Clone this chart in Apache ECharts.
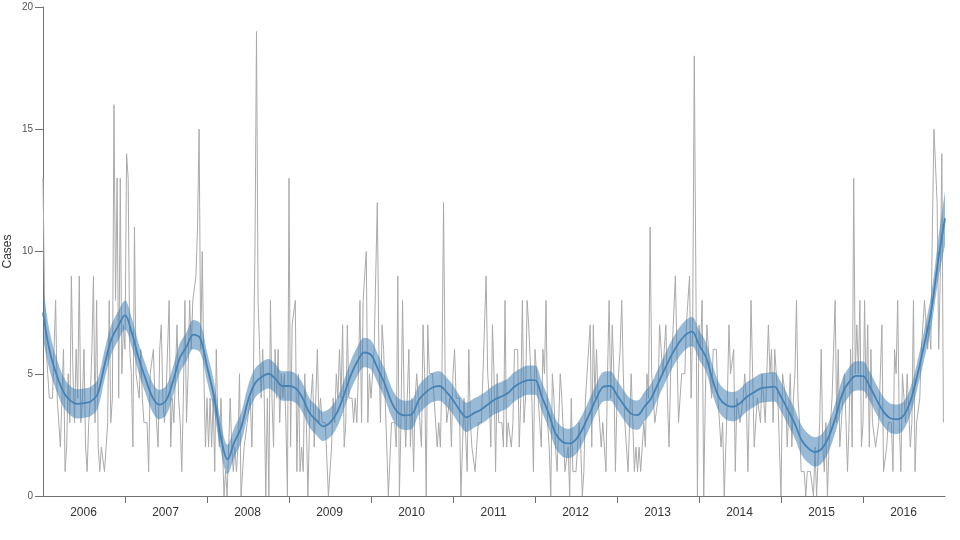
<!DOCTYPE html>
<html>
<head>
<meta charset="utf-8">
<script src="https://cdn.jsdelivr.net/npm/echarts@6/dist/echarts.min.js"></script>
<style>html,body{margin:0;padding:0;background:#fff}#c{width:960px;height:540px}</style>
</head>
<body>
<div id="c"></div>
<script>
const years = ['2006','2007','2008','2009','2010','2011','2012','2013','2014','2015','2016'];
const cases2006 = [13,8,6,5,4,4,4,6,8,4,4,2,2,6,1,2,5,3,9,5,3,6,4,9,3,4,6,2,1,3,4,6,9,3,8,2,1,2,2,1,1,3,8,3,4,16,8,13,4,13,5,7];
const cases2007 = [6,14,13,6,5,2,11,5,5,4,6,4,3,3,3,1,5,5,6,4,4,2,6,7,4,3,4,4,8,2,4,3,3,7,4,3,1,4,8,3,5,8,6,8,8,9,11,15,6,10,5,2];
const cases2008 = [4,2,4,2,4,1,6,3,2,4,2,0,1,0,2,4,2,1,2,1,2,5,0,0,2,2,3,3,4,2,5,10,19,8,6,4,6,4,0,4,0,8,4,2,6,4,6,3,5,4,5,3,0];
const cases2009 = [13,2,7,7,8,1,5,1,2,1,5,3,0,3,3,5,2,4,6,3,4,3,3,3,3,0,1,2,4,3,5,4,6,4,7,2,3,7,4,4,4,3,4,3,5,8,3,8,8,10,3,5];
const cases2010 = [4,4,6,6,12,6,3,7,6,4,2,0,0,3,3,3,2,9,0,3,8,4,2,4,6,2,4,1,4,5,4,4,2,7,5,0,7,5,5,5,4,4,2,3,2,5,12,5,3,3,4,2];
const cases2011 = [5,6,4,4,4,0,2,4,4,1,6,3,2,2,1,1,3,3,3,5,7,9,5,4,2,7,5,1,5,3,3,3,2,8,2,3,3,2,3,6,6,6,2,4,8,3,4,8,7,7,4,1];
const cases2012 = [6,6,4,3,2,6,5,8,3,2,0,5,4,2,1,3,5,4,4,1,1,2,0,4,1,1,1,1,3,2,0,1,4,5,5,7,2,7,4,6,4,3,2,3,2,1,5,8,4,7,5,1];
const cases2013 = [4,5,6,8,5,3,2,1,1,5,3,1,2,1,2,1,2,3,2,5,4,11,5,4,3,3,4,7,6,5,6,7,4,2,5,6,6,9,6,3,4,5,5,5,7,7,9,4,7,18,9,0];
const cases2014 = [7,6,8,0,4,7,6,5,4,6,6,6,4,3,2,3,0,2,4,7,5,5,6,1,4,4,3,3,4,5,4,1,4,8,5,2,2,4,4,3,5,4,3,5,7,5,6,3,6,6,4,2];
const cases2015 = [0,5,5,4,2,2,5,2,4,5,8,4,3,1,1,1,0,1,1,1,1,0,2,0,0,3,6,2,1,3,0,2,2,4,4,8,3,6,2,3,4,5,5,1,3,6,2,13,5,7,5,8,2];
const cases2016 = [3,8,4,7,2,6,3,3,2,2,3,3,7,1,1,2,3,3,3,1,6,5,8,3,1,5,4,3,5,5,2,3,8,1,3,3,4,6,6,8,7,6,7,6,11,15,15,12,6,9,14,3];
const casesByYear = [cases2006,cases2007,cases2008,cases2009,cases2010,cases2011,cases2012,cases2013,cases2014,cases2015,cases2016];

// monthly smooth trend and confidence band, Jan 2006 .. end of series
const trend = [
 7.5,5.9,4.95,4.25,3.9,3.77,3.8,3.87,4.18,5.35,6.4,6.95,
 7.4,6.67,5.63,4.8,4.05,3.74,3.9,4.67,5.63,6.1,6.6,6.46,
 5.3,4.1,2.45,1.5,2.2,2.8,3.9,4.6,4.87,5.0,4.8,4.5,
 4.5,4.4,4.0,3.4,3.1,2.85,3.0,3.4,4.1,4.9,5.5,5.87,
 5.77,5.2,4.6,3.84,3.4,3.3,3.35,3.93,4.24,4.44,4.5,4.27,
 3.93,3.5,3.22,3.38,3.52,3.72,3.93,4.06,4.2,4.47,4.64,4.74,
 4.74,4.06,3.38,2.56,2.22,2.15,2.32,2.77,3.38,4.0,4.47,4.5,
 4.13,3.72,3.38,3.31,3.65,4.0,4.6,5.2,5.77,6.24,6.58,6.72,
 6.18,5.7,4.74,4.0,3.72,3.65,3.79,4.06,4.23,4.4,4.44,4.47,
 4.06,3.52,2.97,2.29,1.95,1.8,1.95,2.43,3.24,4.2,4.68,4.91,
 4.9,4.47,3.93,3.45,3.18,3.14,3.31,3.93,5.0,6.24,7.6,9.65,11.36];
const bandSpan = [
 2.1,1.6,1.35,1.25,1.2,1.2,1.2,1.2,1.2,1.2,1.2,1.2,
 1.2,1.2,1.2,1.2,1.2,1.2,1.2,1.2,1.2,1.2,1.2,1.2,
 1.2,1.2,1.2,1.2,1.2,1.2,1.2,1.2,1.2,1.2,1.2,1.2,
 1.2,1.2,1.2,1.2,1.2,1.2,1.2,1.2,1.2,1.2,1.2,1.2,
 1.2,1.2,1.2,1.2,1.2,1.2,1.2,1.2,1.2,1.2,1.2,1.2,
 1.2,1.2,1.2,1.2,1.2,1.2,1.2,1.2,1.2,1.2,1.2,1.2,
 1.2,1.2,1.2,1.2,1.2,1.2,1.2,1.2,1.2,1.2,1.2,1.2,
 1.2,1.2,1.2,1.2,1.2,1.2,1.2,1.2,1.2,1.2,1.2,1.2,
 1.2,1.2,1.2,1.2,1.2,1.2,1.2,1.2,1.2,1.2,1.2,1.2,
 1.2,1.2,1.2,1.2,1.2,1.2,1.2,1.2,1.2,1.2,1.2,1.2,
 1.2,1.2,1.2,1.2,1.2,1.2,1.15,1.1,1.1,1.2,1.35,1.65,2.2];
const months = trend.map((v, i) => String(i));

const raw = [];
casesByYear.forEach((arr, y) => arr.forEach((v, i) => raw.push([y + i / arr.length, v])));
const low = trend.map((v, i) => +(v - bandSpan[i] / 2).toFixed(3));

const AXIS = '#707070';
const chart = echarts.init(document.getElementById('c'), null, {renderer: 'canvas'});
chart.setOption({
  animation: false,
  backgroundColor: '#fff',
  grid: {left: 43, right: 15, top: 7, bottom: 44, containLabel: false, outerBoundsMode: 'none'},
  xAxis: [
    {type: 'value', min: 0, max: 11, interval: 1, splitLine: {show: false},
     axisLine: {show: true, onZero: false, lineStyle: {color: AXIS, width: 1}},
     axisTick: {show: true, length: 7, lineStyle: {color: AXIS}, customValues: [1,2,3,4,5,6,7,8,9,10]},
     axisLabel: {show: false}},
    {type: 'category', data: years, position: 'bottom', boundaryGap: true,
     axisLine: {show: false}, axisTick: {show: false}, splitLine: {show: false},
     axisLabel: {show: true, color: '#333', fontSize: 12, margin: 11, fontFamily: 'Liberation Sans', interval: 0, padding: [0, 1, 0, 0]}},
    {type: 'category', data: months, position: 'bottom', boundaryGap: false, show: false}
  ],
  yAxis: {type: 'value', min: 0, max: 20, interval: 5, splitLine: {show: false},
    name: 'Cases', nameLocation: 'middle', nameGap: 29, nameRotate: 90, nameMoveOverlap: false,
    nameTextStyle: {color: '#333', fontSize: 12, fontFamily: 'Liberation Sans'},
    axisLine: {show: true, lineStyle: {color: AXIS, width: 1}},
    axisTick: {show: true, length: 8, lineStyle: {color: AXIS}},
    axisLabel: {color: '#555', fontSize: 10, margin: 10, fontFamily: 'Liberation Sans'}},
  series: [
    {name: 'Cases', type: 'line', data: raw, xAxisIndex: 0, symbol: 'none', clip: true,
     lineStyle: {color: '#aaaaaa', width: 1}, z: 2},
    {name: 'lower', type: 'line', data: low, stack: 'band', xAxisIndex: 2, symbol: 'none', smooth: 0.35,
     lineStyle: {width: 0, opacity: 0}, z: 3},
    {name: 'band', type: 'line', data: bandSpan, stack: 'band', xAxisIndex: 2, symbol: 'none', smooth: 0.35,
     lineStyle: {width: 0, opacity: 0}, areaStyle: {color: 'steelblue', opacity: 0.55}, z: 3},
    {name: 'trend', type: 'line', data: trend, xAxisIndex: 2, symbol: 'none', smooth: 0.35,
     lineStyle: {color: '#4682b4', width: 1.8}, z: 4}
  ]
});
</script>
</body>
</html>
